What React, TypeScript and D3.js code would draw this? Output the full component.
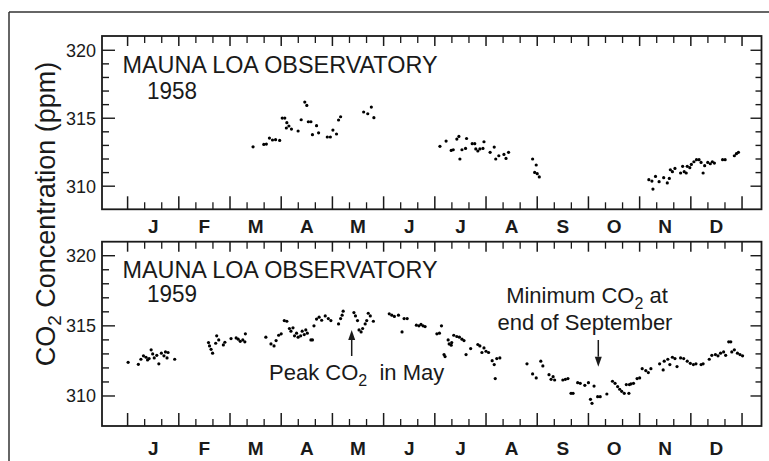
import React from 'react'
import * as d3 from 'd3'

// month labels and y ticks
const monthLabels = ['J', 'F', 'M', 'A', 'M', 'J', 'J', 'A', 'S', 'O', 'N', 'D']
const yMajor = [310, 315, 320]
const yMinor = d3.range(310, 321)

// [month of year (0 = Jan 1), CO2 ppm]
const obs1958: [number, number][] = [
  [2.45, 312.9], [2.66, 313.07], [2.71, 313.1], [2.77, 313.54], [2.83, 313.4], [2.89, 313.42],
  [2.97, 313.37], [3.02, 315.01], [3.07, 315.01], [3.11, 314.67], [3.15, 314.43], [3.1, 314.28],
  [3.2, 314.2], [3.33, 314.06], [3.39, 314.89], [3.46, 316.19], [3.5, 315.94], [3.53, 314.74],
  [3.58, 314.74], [3.61, 313.79], [3.69, 314.45], [3.73, 313.93], [3.9, 313.62], [3.96, 313.62],
  [4.01, 314.13], [4.08, 313.84], [4.12, 314.87], [4.16, 315.11], [4.61, 315.46], [4.69, 315.33],
  [4.76, 315.82], [4.81, 315.04],
  [6.1, 312.93], [6.22, 313.32], [6.32, 312.63], [6.36, 312.68], [6.43, 313.47], [6.47, 313.66],
  [6.49, 312.0], [6.53, 312.68], [6.6, 312.78], [6.62, 313.51], [6.73, 313.13], [6.78, 313.13],
  [6.8, 312.74], [6.84, 312.59], [6.88, 312.74], [6.94, 312.78], [6.96, 313.27], [7.08, 312.49],
  [7.16, 312.88], [7.19, 312.0], [7.25, 312.24], [7.35, 312.34], [7.39, 312.04], [7.44, 312.49],
  [7.91, 312.0], [7.98, 311.56], [7.95, 311.01], [8.0, 310.92], [8.04, 310.68],
  [10.18, 310.48], [10.24, 310.38], [10.26, 309.79], [10.31, 310.72], [10.38, 310.33], [10.47, 310.63],
  [10.54, 310.24], [10.58, 310.57], [10.6, 311.21], [10.64, 311.07], [10.69, 311.31], [10.8, 310.97],
  [10.84, 311.46], [10.87, 311.07], [10.91, 310.97], [10.93, 311.46], [10.98, 311.36], [11.01, 311.6],
  [11.06, 311.8], [11.11, 311.95], [11.16, 311.95], [11.2, 311.75], [11.24, 310.97], [11.27, 311.51],
  [11.33, 311.75], [11.38, 311.65], [11.42, 311.8], [11.46, 311.7], [11.62, 311.95], [11.67, 311.95],
  [11.85, 312.24], [11.89, 312.39], [11.93, 312.49],
]

const obs1959: [number, number][] = [
  [0.01, 312.4], [0.21, 312.26], [0.26, 312.62], [0.31, 312.86], [0.36, 312.76], [0.39, 312.57],
  [0.42, 312.67], [0.46, 313.29], [0.49, 313.0], [0.52, 312.71], [0.57, 312.9], [0.61, 312.29],
  [0.66, 313.05], [0.71, 312.86], [0.74, 313.14], [0.79, 313.1], [0.77, 312.71], [0.92, 312.62],
  [1.58, 313.81], [1.6, 313.57], [1.63, 313.33], [1.66, 313.05], [1.72, 313.76], [1.74, 314.29],
  [1.78, 314.0], [1.87, 313.64], [1.9, 313.83], [2.02, 314.09], [2.12, 314.14], [2.16, 314.05],
  [2.2, 313.9], [2.25, 314.0], [2.3, 314.43], [2.29, 313.86],
  [2.7, 314.19], [2.8, 313.71], [2.86, 313.57], [2.9, 313.95], [2.95, 314.33], [3.0, 314.43],
  [3.06, 315.38], [3.11, 315.33], [3.16, 314.81], [3.19, 314.62], [3.23, 314.86], [3.26, 314.29],
  [3.3, 314.48], [3.33, 314.19], [3.38, 314.29], [3.41, 314.62], [3.45, 314.38], [3.48, 314.71],
  [3.51, 314.48], [3.58, 314.0], [3.61, 314.0],
  [3.64, 315.0], [3.69, 315.48], [3.74, 315.62], [3.79, 315.4], [3.86, 315.71], [3.92, 315.52],
  [3.97, 315.38], [4.12, 315.14], [4.16, 315.52], [4.19, 315.76], [4.21, 316.05],
  [4.42, 315.95], [4.45, 315.71], [4.49, 315.38], [4.52, 314.71], [4.56, 314.57], [4.59, 314.81],
  [4.64, 315.14], [4.67, 315.38], [4.7, 315.9], [4.74, 315.71], [4.8, 315.33],
  [5.11, 315.86], [5.16, 315.76], [5.21, 315.67], [5.29, 315.76], [5.36, 314.57], [5.4, 315.52],
  [5.46, 315.52], [5.64, 315.05], [5.69, 315.0], [5.73, 315.1], [5.77, 315.0], [5.81, 314.95],
  [6.04, 314.43], [6.09, 314.48], [6.13, 315.0], [6.18, 312.95], [6.2, 312.81], [6.26, 314.0],
  [6.28, 313.71], [6.32, 313.62], [6.33, 313.81], [6.37, 314.33], [6.43, 314.24], [6.48, 314.19],
  [6.53, 314.05], [6.57, 313.95], [6.61, 312.95], [6.7, 313.38], [6.84, 313.67], [6.88, 313.57],
  [6.92, 313.1], [6.96, 313.43], [7.0, 313.19], [7.05, 313.1], [7.12, 312.52], [7.16, 312.24],
  [7.18, 311.24], [7.21, 312.67], [7.27, 312.71],
  [7.8, 312.29], [7.91, 311.57], [7.98, 311.29], [8.07, 312.48], [8.11, 312.14], [8.23, 311.52],
  [8.27, 311.19], [8.31, 311.38], [8.34, 311.14], [8.5, 311.14], [8.55, 311.19], [8.6, 311.24],
  [8.66, 310.19], [8.7, 310.19], [8.79, 310.95], [8.84, 310.9], [8.93, 310.76], [9.0, 310.95],
  [9.04, 309.76], [9.07, 309.48], [9.11, 310.71], [9.18, 309.95], [9.23, 309.95], [9.36, 310.14],
  [9.47, 311.05], [9.52, 310.9], [9.57, 310.67], [9.61, 310.48], [9.65, 310.33], [9.7, 310.19],
  [9.74, 310.81], [9.79, 310.19], [9.8, 310.81], [9.83, 310.86], [9.88, 310.9], [9.95, 311.24],
  [10.0, 311.29], [10.05, 311.95], [10.12, 311.81], [10.17, 311.67], [10.22, 311.95], [10.39, 312.29],
  [10.46, 311.86], [10.48, 312.48], [10.55, 312.62], [10.59, 312.24], [10.64, 312.76], [10.69, 312.67],
  [10.73, 312.1], [10.8, 312.71], [10.86, 312.67], [10.93, 312.48], [10.99, 312.33], [11.05, 312.24],
  [11.1, 312.29], [11.2, 312.24], [11.24, 312.29], [11.36, 312.62], [11.41, 312.9], [11.48, 312.95],
  [11.53, 312.86], [11.58, 313.05], [11.64, 313.14], [11.68, 312.9], [11.74, 313.86], [11.78, 313.86],
  [11.8, 313.14], [11.85, 313.29], [11.91, 313.05], [11.96, 312.95], [12.01, 312.86],
]

const font = '"Liberation Sans", Arial, Helvetica, sans-serif'
const ink = '#1a1a1a'

const x = d3.scaleLinear().domain([-0.5, 12.38]).range([102, 761.5])
const majorX = d3.range(0, 13)
const minorX = d3.range(0, 36).filter(i => i % 3 !== 0).map(i => i / 3)

const panels = [
  { year: '1958', data: obs1958, top: 36, bottom: 209.3, domain: [308.3, 321.05], titleY: 73, yearY: 99, monthY: 233 },
  { year: '1959', data: obs1959, top: 241.7, bottom: 426, domain: [307.86, 321.0], titleY: 277.5, yearY: 301.5, monthY: 455 },
]

const Panel = ({ p }: { p: typeof panels[number] }) => {
  const y = d3.scaleLinear().domain(p.domain).range([p.bottom, p.top])
  const [x0, x1] = x.range()
  return (
    <g>
      <rect x={x0} y={p.top} width={x1 - x0} height={p.bottom - p.top} fill="none" stroke={ink} strokeWidth={1.8} />
      {majorX.map(m => (
        <g key={'M' + m}>
          <line x1={x(m)} x2={x(m)} y1={p.bottom} y2={p.bottom - 13} stroke={ink} strokeWidth={1.5} />
          <line x1={x(m)} x2={x(m)} y1={p.top} y2={p.top + 10} stroke={ink} strokeWidth={1.5} />
        </g>
      ))}
      {minorX.map(m => (
        <g key={'m' + m}>
          <line x1={x(m)} x2={x(m)} y1={p.bottom} y2={p.bottom - 7} stroke={ink} strokeWidth={1.3} />
          <line x1={x(m)} x2={x(m)} y1={p.top} y2={p.top + 7} stroke={ink} strokeWidth={1.3} />
        </g>
      ))}
      {yMinor.map(v => {
        const major = yMajor.includes(v)
        return (
          <g key={'y' + v}>
            <line x1={x0} x2={x0 + (major ? 13 : 7)} y1={y(v)} y2={y(v)} stroke={ink} strokeWidth={1.4} />
            <line x1={x1} x2={x1 - (major ? 11 : 6)} y1={y(v)} y2={y(v)} stroke={ink} strokeWidth={1.4} />
          </g>
        )
      })}
      {yMajor.map(v => (
        <text key={'t' + v} x={96} y={y(v) + 6.5} textAnchor="end" fontSize={18} fill={ink}>{v}</text>
      ))}
      {monthLabels.map((l, i) => (
        <text key={'l' + i} x={x(i + 0.5)} y={p.monthY} textAnchor="middle" fontSize={19} fontWeight="bold" fill={ink}>{l}</text>
      ))}
      <text x={122.5} y={p.titleY} fontSize={24} fill={ink} textLength={315} lengthAdjust="spacingAndGlyphs">MAUNA LOA OBSERVATORY</text>
      <text x={147} y={p.yearY} fontSize={24} fill={ink} textLength={50} lengthAdjust="spacingAndGlyphs">{p.year}</text>
      {p.data.map((d, i) => (
        <circle key={i} cx={x(d[0])} cy={y(d[1])} r={1.6} fill="#000" />
      ))}
    </g>
  )
}

const Arrow = ({ ax, from, to }: { ax: number; from: number; to: number }) => {
  const dir = to > from ? 1 : -1
  const base = to - dir * 10
  return (
    <g>
      <line x1={ax} x2={ax} y1={from} y2={base} stroke={ink} strokeWidth={1.5} />
      <path d={`M${ax - 3.5},${base} L${ax + 3.5},${base} L${ax},${to} Z`} fill={ink} />
    </g>
  )
}

export default function App() {
  return (
    <svg width={769} height={461} style={{ position: 'absolute', left: 0, top: 0, background: '#fff' }} fontFamily={font}>
      <line x1={9} x2={769} y1={12} y2={12} stroke="#333" strokeWidth={1.5} />
      <line x1={9} x2={9} y1={12} y2={461} stroke="#333" strokeWidth={1.5} />
      {panels.map(p => <Panel key={p.year} p={p} />)}
      <text transform="translate(55,214) rotate(-90)" textAnchor="middle" fontSize={27} fill={ink}>
        <tspan>CO</tspan>
        <tspan fontSize={19} dy={6}>2</tspan>
        <tspan dy={-6}> Concentration (ppm)</tspan>
      </text>
      <text x={269} y={380} fontSize={22} fill={ink}>
        <tspan>Peak CO</tspan>
        <tspan fontSize={16} dy={6}>2</tspan>
        <tspan dy={-6}>{'\u00a0 in May'}</tspan>
      </text>
      <Arrow ax={351.7} from={356} to={330} />
      <text x={587} y={302.7} fontSize={22} fill={ink} textAnchor="middle">
        <tspan>Minimum CO</tspan>
        <tspan fontSize={16} dy={6}>2</tspan>
        <tspan dy={-6}> at</tspan>
      </text>
      <text x={585} y={330} fontSize={22} fill={ink} textAnchor="middle">end of September</text>
      <Arrow ax={598.3} from={340} to={366.7} />
    </svg>
  )
}
